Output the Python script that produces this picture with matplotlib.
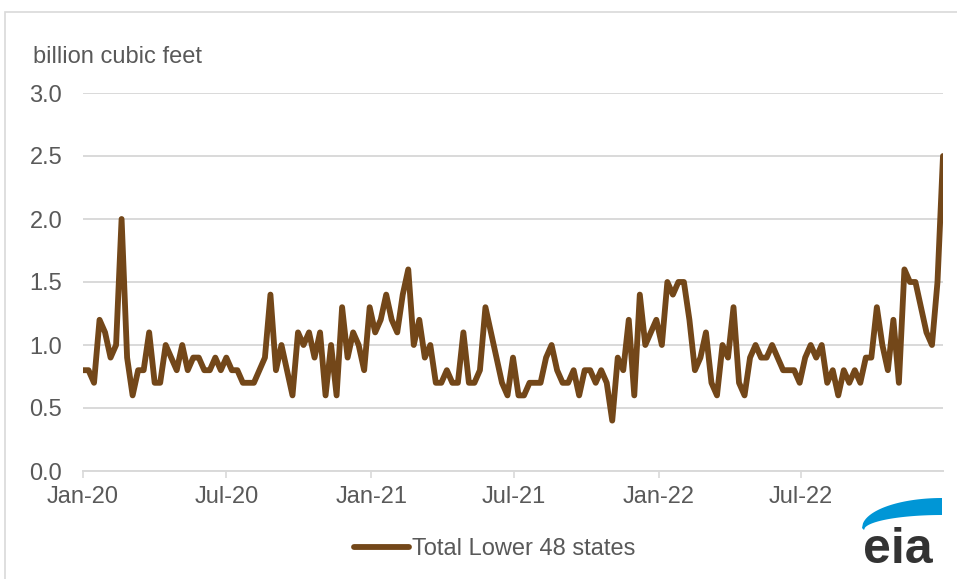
import matplotlib
matplotlib.use("Agg")
import matplotlib.pyplot as plt
import matplotlib.dates as mdates
from matplotlib.patches import Rectangle
import pandas as pd
import numpy as np

plt.rcParams['font.family'] = ['Liberation Sans', 'DejaVu Sans']

start_date = "2020-01-01"
values = [
    0.8, 0.8, 0.7, 1.2, 1.1, 0.9, 1.0, 2.0, 0.9, 0.6,
    0.8, 0.8, 1.1, 0.7, 0.7, 1.0, 0.9, 0.8, 1.0, 0.8,
    0.9, 0.9, 0.8, 0.8, 0.9, 0.8, 0.9, 0.8, 0.8, 0.7,
    0.7, 0.7, 0.8, 0.9, 1.4, 0.8, 1.0, 0.8, 0.6, 1.1,
    1.0, 1.1, 0.9, 1.1, 0.6, 1.0, 0.6, 1.3, 0.9, 1.1,
    1.0, 0.8, 1.3, 1.1, 1.2, 1.4, 1.2, 1.1, 1.4, 1.6,
    1.0, 1.2, 0.9, 1.0, 0.7, 0.7, 0.8, 0.7, 0.7, 1.1,
    0.7, 0.7, 0.8, 1.3, 1.1, 0.9, 0.7, 0.6, 0.9, 0.6,
    0.6, 0.7, 0.7, 0.7, 0.9, 1.0, 0.8, 0.7, 0.7, 0.8,
    0.6, 0.8, 0.8, 0.7, 0.8, 0.7, 0.4, 0.9, 0.8, 1.2,
    0.6, 1.4, 1.0, 1.1, 1.2, 1.0, 1.5, 1.4, 1.5, 1.5,
    1.2, 0.8, 0.9, 1.1, 0.7, 0.6, 1.0, 0.9, 1.3, 0.7,
    0.6, 0.9, 1.0, 0.9, 0.9, 1.0, 0.9, 0.8, 0.8, 0.8,
    0.7, 0.9, 1.0, 0.9, 1.0, 0.7, 0.8, 0.6, 0.8, 0.7,
    0.8, 0.7, 0.9, 0.9, 1.3, 1.0, 0.8, 1.2, 0.7, 1.6,
    1.5, 1.5, 1.3, 1.1, 1.0, 1.5, 2.5,
]
dates = pd.date_range(start_date, periods=len(values), freq="7D")
x_tick_dates = ["2020-01-01", "2020-07-01", "2021-01-01", "2021-07-01",
                "2022-01-01", "2022-07-01"]
y_ticks = [0.0, 0.5, 1.0, 1.5, 2.0, 2.5, 3.0]
series_name = "Total Lower 48 states"
y_unit = "billion cubic feet"

W, H = 957, 579
fig = plt.figure(figsize=(W / 100, H / 100), dpi=100)
fig.patch.set_facecolor("white")

# outer chart border
fig.patches.append(Rectangle((5 / W, -0.05), 1.1, 1 - 12 / H + 0.05,
                             transform=fig.transFigure, fill=False,
                             edgecolor="#d9d9d9", linewidth=1.2))

ax = fig.add_axes([83 / W, (H - 471) / H, (943 - 83) / W, 378 / H])
text_color = "#595959"
grid_color = "#d9d9d9"
line_color = "#734719"

ax.plot(dates, values, color=line_color, linewidth=4.2,
        solid_joinstyle="round", solid_capstyle="round", label=series_name,
        zorder=3)

ax.set_ylim(0, 3.0)
ax.set_yticks(y_ticks)
ax.yaxis.set_major_formatter(matplotlib.ticker.FormatStrFormatter("%.1f"))
ax.set_xlim(dates[0], dates[-1])
ax.set_xticks(pd.to_datetime(x_tick_dates))
ax.xaxis.set_major_formatter(mdates.DateFormatter("%b-%y"))

ax.grid(axis="y", color=grid_color, linewidth=1.4, zorder=0)
ax.set_axisbelow(True)
for s in ["top", "right", "left"]:
    ax.spines[s].set_visible(False)
ax.spines["bottom"].set_color(grid_color)
ax.spines["bottom"].set_linewidth(1.4)

ax.tick_params(axis="y", length=0, pad=15, labelsize=17, labelcolor=text_color)
ax.tick_params(axis="x", length=5, width=1.2, color=grid_color, pad=6,
               labelsize=17, labelcolor=text_color)

fig.text(33 / W, 1 - 63 / H, y_unit, fontsize=17, color=text_color,
         va="baseline", ha="left")

leg = fig.legend(loc="center", bbox_to_anchor=(495 / W, 1 - 549 / H),
                 frameon=False, fontsize=17, handlelength=2.3,
                 handletextpad=0.15, borderpad=0)
for t in leg.get_texts():
    t.set_color(text_color)

# eia logo (pixel coordinates, y downward)
logo_ax = fig.add_axes([0, 0, 1, 1], zorder=5)
logo_ax.set_xlim(0, W)
logo_ax.set_ylim(H, 0)
logo_ax.axis("off")
dx_top = np.linspace(80, 0, 80)
top_y = 528 - 30 * np.sqrt(np.clip(1 - (dx_top / 80) ** 2, 0, 1))
dx_bot = np.linspace(0, 78, 80)
bot_y = 530 - 15 * np.sqrt(np.clip(1 - (dx_bot / 78) ** 2, 0, 1))
px = np.concatenate([942 - dx_top, 942 - dx_bot])
py = np.concatenate([top_y, bot_y])
logo_ax.fill(px, py, color="#0096d6", linewidth=0)
logo_ax.text(898, 563, "eia", fontsize=36, fontweight="bold",
             color="#333333", ha="center", va="baseline")

fig.savefig("out.png", dpi=100, facecolor="white")
